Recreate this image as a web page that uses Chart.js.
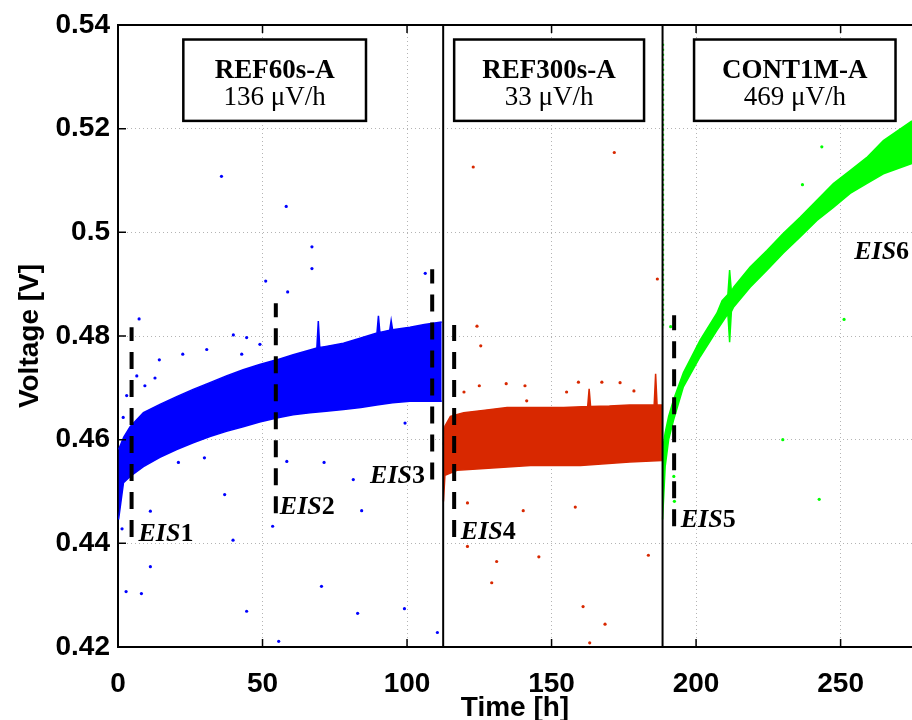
<!DOCTYPE html>
<html>
<head>
<meta charset="utf-8">
<script src="https://cdn.jsdelivr.net/npm/chart.js@4.4.0/dist/chart.umd.min.js"></script>
<style>
  html, body { margin: 0; padding: 0; background: #fff; }
  #wrap { width: 912px; height: 720px; }
</style>
</head>
<body>
<div id="wrap"><canvas id="volt" width="912" height="720"></canvas></div>
<script>
// axes
const xTicks = [0, 50, 100, 150, 200, 250];
const yTicks = [0.42, 0.44, 0.46, 0.48, 0.5, 0.52, 0.54];
const yTickLabels = ["0.42", "0.44", "0.46", "0.48", "0.5", "0.52", "0.54"];

// REF60s-A : envelope of the blue cloud
const ref60HiTime = [0.2, 2, 4.2, 8.8, 14.5, 20.3, 26, 31.8, 37.5, 43.3, 49, 54.9, 60.6, 66.4, 68.8, 69.3, 69.8, 72, 78, 84, 89.6, 90.1, 90.6, 94, 94.5, 95, 101, 106, 112];
const ref60Hi = [0.4581, 0.4605, 0.4625, 0.4652, 0.4668, 0.4683, 0.4697, 0.4710, 0.4723, 0.4735, 0.4745, 0.4754, 0.4764, 0.4773, 0.4777, 0.4829, 0.4778, 0.4780, 0.4786, 0.4796, 0.4806, 0.4839, 0.4807, 0.4811, 0.4830, 0.4812, 0.4817, 0.4822, 0.4827];
const ref60LoTime = [0.2, 1.9, 4.2, 8.8, 14.5, 20.3, 26, 31.8, 37.5, 43.3, 49, 54.9, 60.6, 66.4, 72, 78, 84, 89.5, 95, 101, 106, 112];
const ref60Lo = [0.4446, 0.4517, 0.4529, 0.4548, 0.4566, 0.4581, 0.4594, 0.4606, 0.4616, 0.4625, 0.4634, 0.4642, 0.4648, 0.4652, 0.4655, 0.4658, 0.4662, 0.4667, 0.4671, 0.4674, 0.4674, 0.4674];
const ref60OutTime = [35.8, 58.2, 67.1, 67.1, 51.1, 58.7, 106.3, 7.3, 36.9, 11.2, 1.4, 39.8, 11.2, 2.8, 8.1, 44.5, 84.3, 53.5, 70.4, 82.9, 99.1, 110.5, 55.6, 81.4, 58.4, 71.3, 20.9, 29.9, 99.3, 39.9, 14.3, 22.4, 30.7, 44.5, 42.8, 49.1, 1.8, 3, 6.5, 9.3, 12.8];
const ref60Out = [0.5108, 0.5050, 0.4972, 0.4930, 0.4906, 0.4885, 0.4921, 0.4833, 0.4494, 0.4462, 0.4428, 0.4406, 0.4355, 0.4307, 0.4303, 0.4269, 0.4463, 0.4433, 0.4317, 0.4265, 0.4274, 0.4228, 0.4211, 0.4523, 0.4558, 0.4556, 0.4556, 0.4565, 0.4632, 0.4802, 0.4754, 0.4765, 0.4774, 0.4797, 0.4765, 0.4784, 0.4643, 0.4685, 0.4723, 0.4704, 0.4719];

// REF300s-A : envelope of the red cloud
const ref300HiTime = [112.6, 113.1, 115, 119.6, 127, 134.6, 145, 154.2, 162.5, 163, 163.5, 170, 177, 185.5, 186, 186.5, 188.2];
const ref300Hi = [0.4590, 0.4626, 0.4645, 0.4652, 0.4657, 0.4662, 0.4662, 0.4662, 0.4664, 0.4698, 0.4664, 0.4665, 0.4667, 0.4667, 0.4727, 0.4667, 0.4667];
const ref300LoTime = [112.6, 113.1, 117.3, 125.4, 142.7, 160, 177, 188.2];
const ref300Lo = [0.4481, 0.4531, 0.4541, 0.4544, 0.4550, 0.4550, 0.4557, 0.4560];
const ref300OutTime = [122.9, 171.7, 186.6, 124.2, 120.9, 140.2, 158.2, 120.9, 131.0, 145.6, 129.3, 183.5, 160.9, 168.5, 163.2, 125.5, 119.7, 125.0, 134.3, 140.8, 159.3, 167.4, 173.7, 178.5, 155.2, 141.4];
const ref300Out = [0.5126, 0.5154, 0.4910, 0.4819, 0.4478, 0.4463, 0.4470, 0.4394, 0.4365, 0.4374, 0.4324, 0.4377, 0.4278, 0.4244, 0.4208, 0.4781, 0.4692, 0.4704, 0.4708, 0.4704, 0.4711, 0.4711, 0.4710, 0.4694, 0.4692, 0.4675];

// CONT1M-A : envelope of the green cloud
const cont1HiTime = [188.4, 189.3, 190.5, 192.2, 195.6, 201.4, 207.2, 209, 211, 211.6, 212.2, 213, 218.7, 224.5, 230.2, 236, 241.8, 247.5, 253.3, 259, 264.8, 274.7];
const cont1Hi = [0.4580, 0.4613, 0.4645, 0.4677, 0.4729, 0.4792, 0.4844, 0.4868, 0.4880, 0.4927, 0.4886, 0.4894, 0.4933, 0.4965, 0.4998, 0.5029, 0.5062, 0.5094, 0.5119, 0.5144, 0.5177, 0.5215];
const cont1LoTime = [188.4, 189.3, 190.5, 192.2, 195.6, 201.4, 207.2, 211, 211.6, 212.2, 213, 218.7, 224.5, 230.2, 236, 241.8, 247.5, 253.3, 259, 264.8, 274.7];
const cont1Lo = [0.4446, 0.4548, 0.4600, 0.4638, 0.4702, 0.4760, 0.4811, 0.4843, 0.4788, 0.4847, 0.4856, 0.4894, 0.4927, 0.4960, 0.4991, 0.5023, 0.5048, 0.5075, 0.5094, 0.5113, 0.5133];
const cont1OutTime = [243.5, 236.8, 251.2, 230.0, 242.6, 191.2, 192.3, 192.5];
const cont1Out = [0.5165, 0.5092, 0.4832, 0.4600, 0.4485, 0.4818, 0.4529, 0.4481];
const cont1TraceTime = [188.7, 188.7];
const cont1Trace = [0.482, 0.537];

// test changes and EIS measurements
const phaseBounds = [112.5, 188.4];
const eisTime = [4.7, 54.6, 108.7, 116.3, 192.4];
const eisTop = [0.4817, 0.4863, 0.4929, 0.4821, 0.4840];
const eisBottom = [0.4412, 0.4458, 0.4523, 0.4412, 0.4433];
const eisNames = ["1", "2", "3", "4", "5", "6"];
const eisLabelTime = [7.1, 56, 87.2, 118.6, 194.7, 254.7];
const eisLabelV = [0.4404, 0.4456, 0.4517, 0.4408, 0.4432, 0.4949];

const phaseNames = ["REF60s-A", "REF300s-A", "CONT1M-A"];
const phaseRates = ["136 \u03bcV/h", "33 \u03bcV/h", "469 \u03bcV/h"];
const boxLeft = [22.6, 116.3, 199.3];
const boxRight = [85.8, 182, 269];
const boxTop = 0.5372, boxBottom = 0.5215;

const BLUE = "#0000ff", RED = "#d82800", GREEN = "#00ff00";

function pts(xs, ys) {
    return xs.map(function (t, i) { return {x: t, y: ys[i]}; });
}

function band(lowT, low, highT, high, color) {
    return [
        {data: pts(lowT, low), borderColor: color, borderWidth: 1.5, backgroundColor: color,
         pointRadius: 0, fill: false, order: 5},
        {data: pts(highT, high), borderColor: color, borderWidth: 1.5, backgroundColor: color,
         pointRadius: 0, fill: "-1", order: 5}
    ];
}

function dots(xs, ys, color) {
    return {data: pts(xs, ys), showLine: false, pointRadius: 1.6, pointBorderWidth: 0,
            pointBackgroundColor: color, borderColor: color, order: 3};
}

const datasets = [].concat(
    band(ref60LoTime, ref60Lo, ref60HiTime, ref60Hi, BLUE),
    band(ref300LoTime, ref300Lo, ref300HiTime, ref300Hi, RED),
    band(cont1LoTime, cont1Lo, cont1HiTime, cont1Hi, GREEN),
    [dots(ref60OutTime, ref60Out, BLUE),
     dots(ref300OutTime, ref300Out, RED),
     dots(cont1OutTime, cont1Out, GREEN),
     {data: pts(cont1TraceTime, cont1Trace), borderColor: GREEN, borderWidth: 1.5, borderDash: [2, 3],
      pointRadius: 0, fill: false, order: 3}]
);

phaseBounds.forEach(function (t) {
    datasets.push({data: [{x: t, y: 0.42}, {x: t, y: 0.54}], borderColor: "#000", borderWidth: 2,
                   pointRadius: 0, fill: false, order: 2});
});

eisTime.forEach(function (t, i) {
    datasets.push({data: [{x: t, y: eisBottom[i]}, {x: t, y: eisTop[i]}], borderColor: "#000",
                   borderWidth: 4, borderDash: [17, 11], pointRadius: 0, fill: false, order: 1});
});

const overlay = {
    id: "overlay",
    afterDatasetsDraw: function (chart) {
        const ctx = chart.ctx, a = chart.chartArea, x = chart.scales.x, y = chart.scales.y;
        ctx.save();
        // top frame line
        ctx.strokeStyle = "#000";
        ctx.lineWidth = 2;
        ctx.beginPath();
        ctx.moveTo(a.left, a.top);
        ctx.lineTo(a.right, a.top);
        ctx.stroke();
        // inward tick marks
        ctx.lineWidth = 1.5;
        ctx.beginPath();
        yTicks.forEach(function (v) {
            const py = y.getPixelForValue(v);
            ctx.moveTo(a.left, py); ctx.lineTo(a.left + 8, py);
        });
        xTicks.forEach(function (v) {
            const px = x.getPixelForValue(v);
            ctx.moveTo(px, a.bottom); ctx.lineTo(px, a.bottom - 8);
            ctx.moveTo(px, a.top); ctx.lineTo(px, a.top + 8);
        });
        ctx.stroke();

        // phase boxes
        phaseNames.forEach(function (name, i) {
            const l = x.getPixelForValue(boxLeft[i]), r = x.getPixelForValue(boxRight[i]);
            const t = y.getPixelForValue(boxTop), b = y.getPixelForValue(boxBottom);
            ctx.fillStyle = "#fff";
            ctx.fillRect(l, t, r - l, b - t);
            ctx.lineWidth = 2.5;
            ctx.strokeStyle = "#000";
            ctx.strokeRect(l, t, r - l, b - t);
            ctx.fillStyle = "#000";
            ctx.textAlign = "center";
            ctx.textBaseline = "alphabetic";
            ctx.font = "bold 27px 'Liberation Serif'";
            ctx.fillText(name, (l + r) / 2, t + 38);
            ctx.font = "27px 'Liberation Serif'";
            ctx.fillText(phaseRates[i], (l + r) / 2, t + 65);
        });

        // EIS labels
        ctx.textAlign = "left";
        ctx.fillStyle = "#000";
        eisNames.forEach(function (n, i) {
            const px = x.getPixelForValue(eisLabelTime[i]), py = y.getPixelForValue(eisLabelV[i]);
            ctx.font = "italic bold 26px 'Liberation Serif'";
            ctx.fillText("EIS", px, py);
            const w = ctx.measureText("EIS").width;
            ctx.font = "bold 26px 'Liberation Serif'";
            ctx.fillText(n, px + w, py);
        });
        ctx.restore();
    }
};

const tickFont = {family: "'Liberation Sans', Arial, sans-serif", size: 28, weight: "bold"};

const chart = new Chart(document.getElementById("volt"), {
    type: "line",
    data: {datasets: datasets},
    options: {
        responsive: false,
        animation: false,
        layout: {autoPadding: false, padding: {top: 25, right: 0, left: 0, bottom: 0}},
        plugins: {legend: {display: false}, tooltip: {enabled: false}},
        elements: {line: {tension: 0}},
        scales: {
            x: {
                type: "linear",
                min: 0,
                max: 274.7,
                afterBuildTicks: function (s) { s.ticks = xTicks.map(function (v) { return {value: v}; }); },
                afterFit: function (s) { s.height = 73; },
                ticks: {font: tickFont, color: "#000", padding: 20, includeBounds: false, maxRotation: 0},
                grid: {color: "#b4b4b4", lineWidth: 1, drawTicks: false},
                border: {color: "#000", width: 2, dash: [1, 3]},
                title: {display: true, text: "Time [h]", color: "#000",
                        font: {family: "'Liberation Sans', Arial, sans-serif", size: 28, weight: "bold", lineHeight: 1},
                        padding: {top: 0, bottom: -2}}
            },
            y: {
                type: "linear",
                min: 0.42,
                max: 0.54,
                afterBuildTicks: function (s) { s.ticks = yTicks.map(function (v) { return {value: v}; }); },
                afterFit: function (s) { s.width = 118; },
                ticks: {font: tickFont, color: "#000", padding: 8,
                        callback: function (v) { return yTickLabels[yTicks.indexOf(v)]; }},
                grid: {color: "#b4b4b4", lineWidth: 1, drawTicks: false},
                border: {color: "#000", width: 2, dash: [1, 3]},
                title: {display: true, text: "Voltage [V]", color: "#000",
                        font: {family: "'Liberation Sans', Arial, sans-serif", size: 28, weight: "bold", lineHeight: 1},
                        padding: {top: 16, bottom: 0}}
            }
        }
    },
    plugins: [overlay]
});
</script>
</body>
</html>
